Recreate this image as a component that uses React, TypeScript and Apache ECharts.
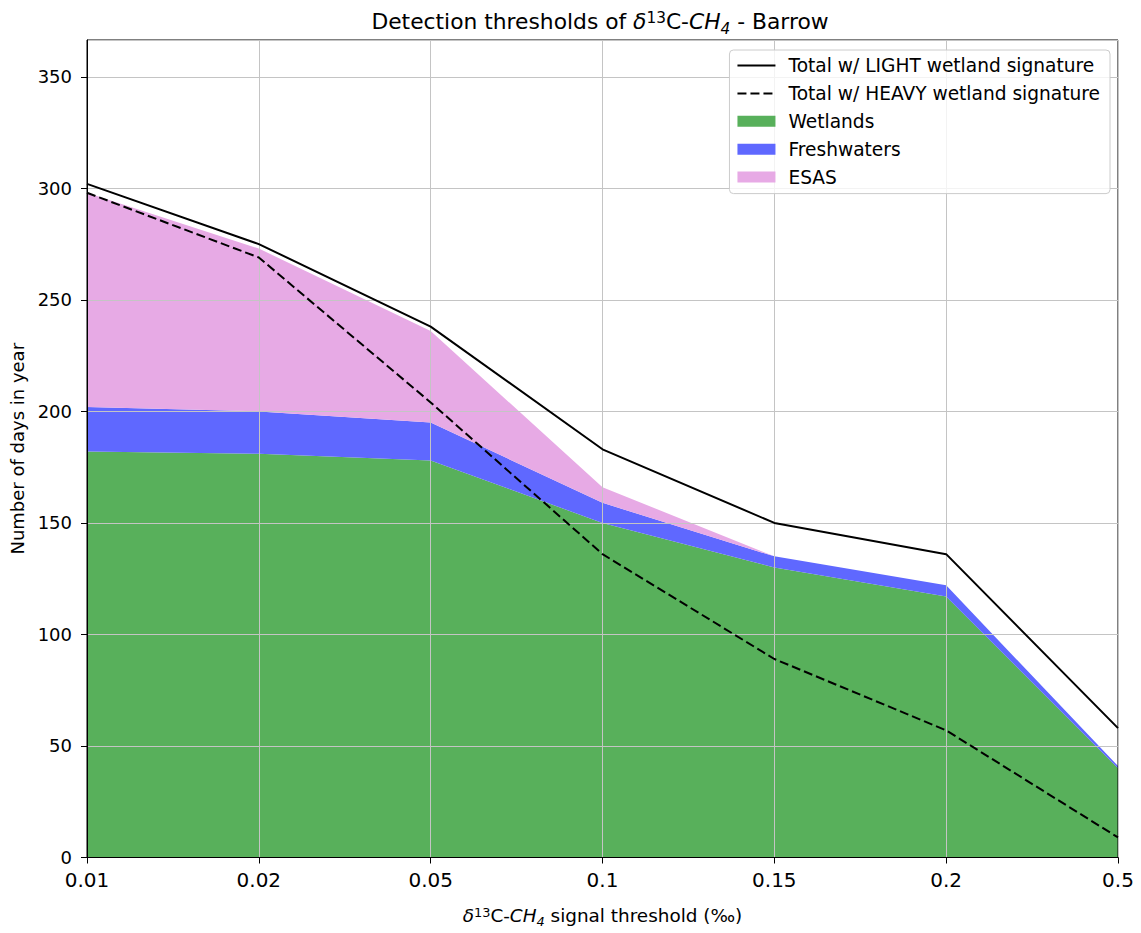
import React, { useEffect, useRef } from "react";
import * as echarts from "echarts";

// Signal thresholds (‰) used as evenly spaced categories
const thresholds = ["0.01", "0.02", "0.05", "0.1", "0.15", "0.2", "0.5"];

// Stacked contributions (days per year above threshold)
const wetlands = [182, 181, 178, 150, 130, 117, 40];
const freshwaters = [20, 19, 17, 9, 5, 5, 1];
const esas = [96, 73, 41, 7, 0, 0, 0];

// Totals for the two wetland isotopic signatures
const totalLight = [302, 275, 238, 183, 150, 136, 58];
const totalHeavy = [298, 269, 204, 136, 89, 57, 9];

const FONT = "DejaVu Sans";

// Rich-text styles for a mathtext-like label: italic symbols, raised and lowered indices
const mathRich = (size: number) => {
  const small = Math.round(size * 0.7 * 10) / 10;
  const lh = Math.round(size * 1.4);
  const base = { fontFamily: FONT, color: "#000", fontWeight: "normal" };
  return {
    n: { ...base, fontSize: size, lineHeight: lh },
    i: { ...base, fontSize: size, fontStyle: "italic", lineHeight: lh },
    sup: { ...base, fontSize: small, lineHeight: Math.round(small * 1.2), padding: [0, 0, Math.round(size * 0.3), 0] },
    sub: {
      ...base,
      fontSize: small,
      fontStyle: "italic",
      lineHeight: Math.round(small * 1.1),
      padding: [Math.round(size * 0.66), 0, 0, 0],
    },
  };
};

export default function App() {
  const ref = useRef<HTMLDivElement>(null);

  useEffect(() => {
    document.body.style.margin = "0";
    if (!ref.current) return;
    const chart = echarts.init(ref.current, undefined, { renderer: "svg" });

    const areaSeries = (name: string, data: number[], color: string) => ({
      name,
      type: "line",
      stack: "sources",
      data,
      symbol: "none",
      z: -1,
      lineStyle: { width: 0, color },
      itemStyle: { color },
      areaStyle: { color, opacity: 1 },
    });

    chart.setOption({
      animation: false,
      textStyle: { fontFamily: FONT },
      title: {
        text: "{n|Detection thresholds of }{i|δ}{sup|13}{n|C-}{i|CH}{sub|4}{n| - Barrow}",
        left: 600,
        top: 6,
        padding: 0,
        textAlign: "center",
        textStyle: { fontWeight: "normal", rich: mathRich(21.8) },
      },
      legend: {
        orient: "vertical",
        right: 31,
        top: 50,
        padding: [6, 10, 7, 7],
        itemWidth: 38,
        itemHeight: 11,
        itemGap: 8.9,
        backgroundColor: "rgba(255,255,255,0.8)",
        borderColor: "#cccccc",
        borderWidth: 1,
        borderRadius: 4,
        textStyle: { fontFamily: FONT, fontSize: 18.6, color: "#000", padding: [0, 0, 0, 8], lineHeight: 18 },
        data: [
          { name: "Total w/ LIGHT wetland signature", itemStyle: { opacity: 0 } },
          { name: "Total w/ HEAVY wetland signature", itemStyle: { opacity: 0 } },
          { name: "Wetlands", icon: "rect" },
          { name: "Freshwaters", icon: "rect" },
          { name: "ESAS", icon: "rect" },
        ],
      },
      grid: {
        left: 87,
        right: 23,
        top: 40,
        bottom: 74,
        show: true,
        borderColor: "#000",
        borderWidth: 1,
        backgroundColor: "transparent",
      },
      xAxis: {
        type: "category",
        data: thresholds,
        boundaryGap: false,
        name: "{i|δ}{sup|13}{n|C-}{i|CH}{sub|4}{n| signal threshold (‰)}",
        nameLocation: "middle",
        nameGap: 45,
        nameTextStyle: { rich: mathRich(18.4) },
        axisLine: { lineStyle: { color: "#000", width: 1 } },
        axisTick: { show: true, length: 6, lineStyle: { color: "#000" } },
        axisLabel: { fontFamily: FONT, fontSize: 20, color: "#000", margin: 12 },
        splitLine: { show: true, lineStyle: { color: "#c4c4c4", width: 1 } },
      },
      yAxis: {
        type: "value",
        min: 0,
        max: 366.5,
        interval: 50,
        name: "Number of days in year",
        nameLocation: "middle",
        nameRotate: 90,
        nameGap: 58,
        nameTextStyle: { fontFamily: FONT, fontSize: 18, color: "#000" },
        axisLine: { show: true, lineStyle: { color: "#000", width: 1 } },
        axisTick: { show: true, length: 6, lineStyle: { color: "#000" } },
        axisLabel: { fontFamily: FONT, fontSize: 18, color: "#000", margin: 15, showMaxLabel: false },
        splitLine: { show: true, lineStyle: { color: "#c4c4c4", width: 1 } },
      },
      series: [
        areaSeries("Wetlands", wetlands, "#58b05b"),
        areaSeries("Freshwaters", freshwaters, "#5f68ff"),
        areaSeries("ESAS", esas, "#e7aae5"),
        {
          name: "Total w/ LIGHT wetland signature",
          type: "line",
          data: totalLight,
          symbol: "none",
          z: 5,
          itemStyle: { color: "#000" },
          lineStyle: { color: "#000", width: 2 },
        },
        {
          name: "Total w/ HEAVY wetland signature",
          type: "line",
          data: totalHeavy,
          symbol: "none",
          z: 5,
          itemStyle: { color: "#000" },
          lineStyle: { color: "#000", width: 2, type: [9, 4] },
        },
      ],
    });

    return () => chart.dispose();
  }, []);

  return <div ref={ref} style={{ width: 1141, height: 933 }} />;
}
